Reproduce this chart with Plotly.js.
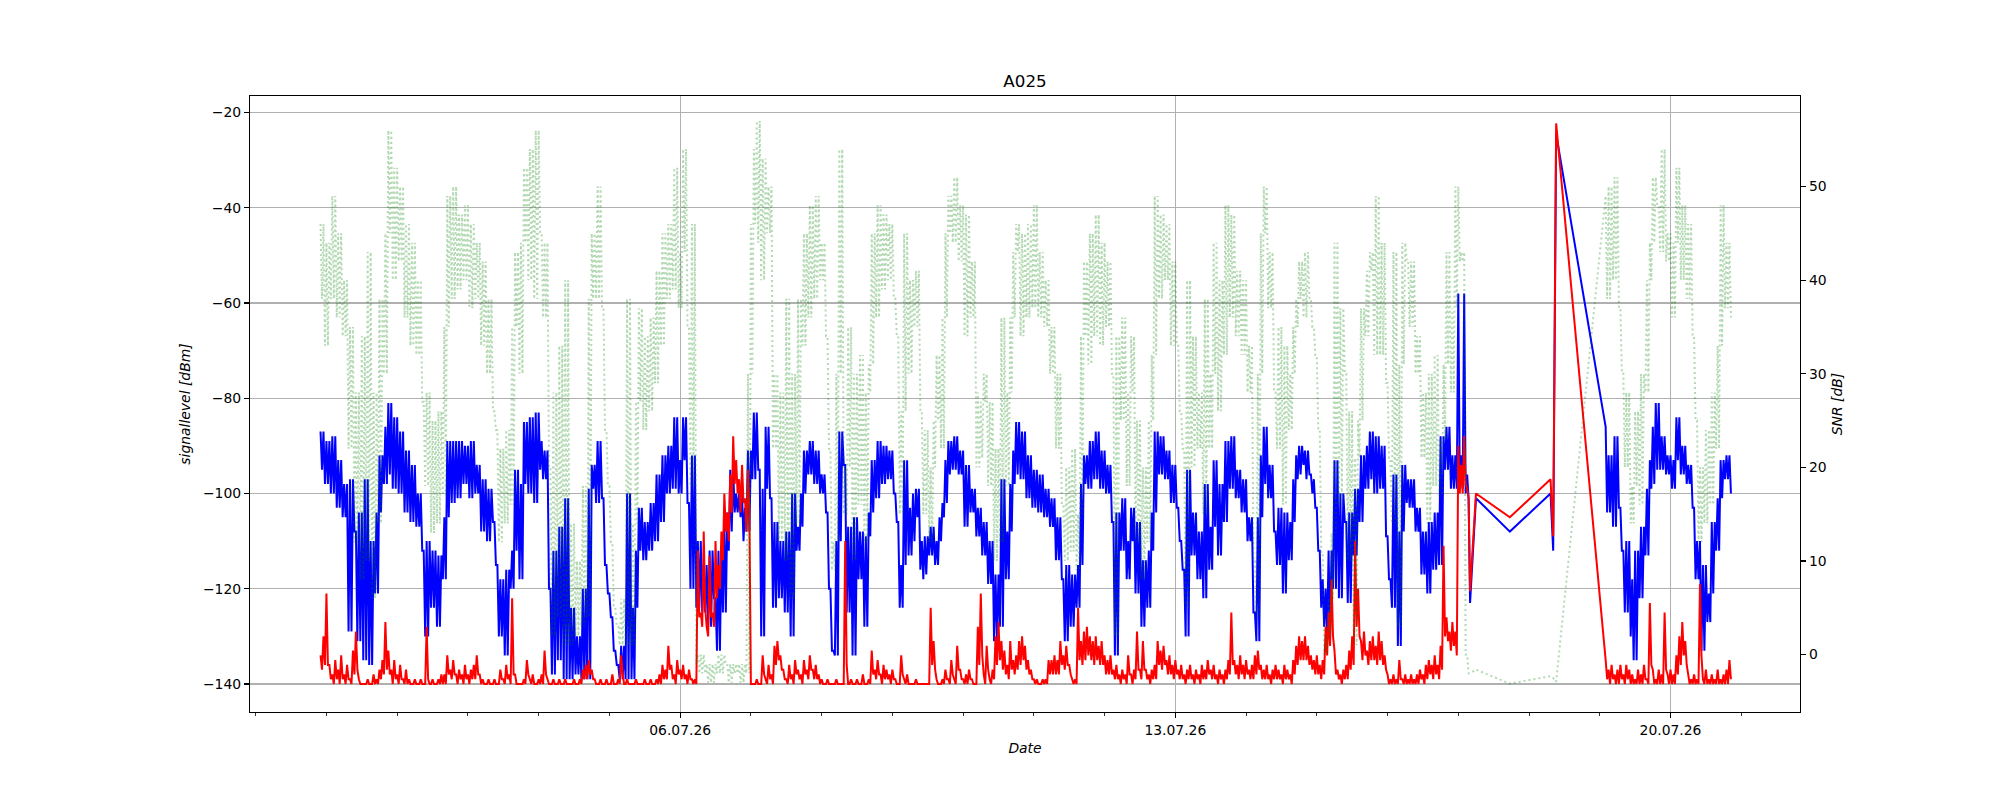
<!DOCTYPE html>
<html><head><meta charset="utf-8">
<script src="https://cdn.plot.ly/plotly-3.0.1.min.js"></script>
<style>html,body{margin:0;padding:0;background:#fff}</style>
</head><body><div id="chart" style="width:2000px;height:800px"></div>
<script>
// Readings per hour: "Hi" taken at hh:00, "Lo" at hh:30. Main block starts 30.06.26 22:00
const mainStart = '2026-06-30T22:00:00Z';
const endStart = '2026-07-19T02:00:00Z';

const blueHi = [-87,-87,-89,-89,-88,-88,-93,-93,
-98,-98,-97,-97,-108,-104,-104,-97,-97,-110,
-110,-104,-92,-92,-86,-81,-81,-84,-84,-87,
-87,-91,-91,-94,-94,-100,-100,-112,-110,-110,
-112,-112,-113,-113,-105,-89,-89,-89,-89,-89,
-89,-90,-90,-89,-89,-94,-94,-97,-97,-99,
-99,-106,-115,-118,-118,-116,-116,-112,-95,-95,
-98,-85,-85,-84,-84,-83,-83,-89,-91,-91,
-120,-112,-112,-107,-107,-101,-101,-124,-124,-130,
-130,-120,-120,-99,-94,-94,-89,-89,-101,-115,
-121,-126,-133,-136,-132,-132,-100,-100,-124,-112,
-103,-103,-106,-106,-102,-102,-96,-96,-92,-92,
-90,-90,-84,-84,-93,-84,-84,-102,-92,-92,
-110,-110,-115,-115,-112,-112,-122,-112,-112,-106,
-104,-95,-95,-100,-100,-100,-103,-91,-91,-83,
-83,-95,-99,-86,-86,-101,-106,-106,-110,-110,
-108,-108,-100,-100,-107,-100,-91,-91,-89,-89,
-91,-91,-96,-96,-104,-120,-133,-110,-87,-87,
-94,-107,-107,-105,-105,-108,-108,-109,-104,-93,
-93,-89,-89,-90,-90,-91,-91,-100,-106,-115,
-93,-93,-103,-100,-99,-99,-110,-109,-109,-107,
-107,-110,-105,-102,-93,-89,-89,-88,-88,-91,
-91,-94,-94,-99,-99,-103,-103,-106,-106,-110,
-110,-117,-117,-97,-97,-108,-98,-91,-85,-85,
-87,-87,-92,-92,-95,-95,-96,-96,-99,-99,
-101,-101,-105,-105,-118,-115,-115,-117,-117,-115,
-98,-92,-92,-89,-89,-87,-87,-91,-91,-94,
-94,-106,-104,-104,-101,-101,-110,-103,-103,-106,
-106,-114,-114,-112,-104,-87,-87,-88,-88,-91,
-91,-94,-94,-103,-110,-116,-95,-95,-104,-104,
-108,-108,-98,-98,-107,-93,-93,-98,-98,-89,
-89,-88,-88,-95,-95,-97,-97,-105,-105,-125,
-105,-92,-86,-86,-94,-94,-108,-103,-103,-104,
-104,-106,-97,-92,-90,-90,-91,-91,-96,-97,
-103,-112,-118,-120,-112,-112,-93,-93,-100,-100,
-106,-104,-104,-99,-99,-92,-92,-90,-87,-87,
-88,-88,-90,-90,-109,-118,-96,-96,-108,-94,
-94,-97,-97,-97,-103,-103,-108,-108,-106,-106,
-104,-104,-88,-88,-86,-86,-92,-92,-58,-92,
-58,-96];

const blueLo = [-95,-98,-98,-100,-100,-103,-103,-105,
-105,-129,-129,-108,-131,-131,-135,-135,-136,-136,
-121,-121,-104,-98,-98,-96,-99,-99,-100,-100,
-104,-104,-106,-106,-107,-107,-112,-130,-130,-124,
-124,-128,-128,-118,-118,-105,-102,-102,-101,-101,
-98,-98,-101,-101,-100,-100,-108,-108,-110,-110,
-106,-115,-130,-130,-134,-134,-120,-120,-112,-118,
-118,-98,-100,-100,-102,-102,-95,-97,-97,-120,
-138,-138,-135,-135,-139,-139,-139,-139,-138,-138,
-139,-139,-139,-139,-99,-102,-102,-101,-115,-121,
-126,-133,-136,-139,-139,-139,-139,-139,-139,-124,
-112,-114,-114,-112,-112,-110,-110,-106,-106,-100,
-100,-99,-99,-100,-100,-93,-102,-120,-120,-124,
-124,-125,-125,-128,-128,-122,-133,-133,-125,-125,
-112,-108,-104,-104,-105,-110,-108,-108,-97,-97,
-95,-130,-130,-99,-101,-124,-124,-122,-122,-125,
-125,-130,-130,-112,-112,-107,-100,-96,-96,-98,
-98,-100,-100,-104,-120,-133,-134,-134,-110,-94,
-125,-125,-134,-134,-118,-118,-128,-128,-109,-104,
-101,-101,-98,-98,-97,-97,-100,-106,-124,-124,
-115,-113,-113,-110,-105,-116,-118,-117,-113,-113,
-115,-115,-110,-105,-102,-96,-95,-95,-96,-96,
-107,-107,-104,-104,-109,-109,-113,-113,-119,-119,
-131,-131,-128,-128,-118,-118,-108,-98,-96,-97,
-97,-101,-101,-103,-103,-104,-104,-105,-105,-107,
-107,-114,-114,-118,-131,-131,-128,-128,-124,-124,
-115,-98,-99,-99,-97,-97,-99,-99,-100,-100,
-106,-134,-134,-112,-112,-118,-118,-110,-121,-121,
-128,-128,-124,-124,-112,-104,-96,-96,-97,-97,
-102,-102,-103,-110,-116,-130,-130,-113,-113,-118,
-118,-122,-122,-116,-116,-107,-113,-113,-106,-106,
-99,-99,-101,-101,-104,-104,-110,-110,-125,-131,
-131,-105,-98,-101,-101,-108,-115,-115,-121,-121,
-114,-114,-106,-97,-96,-94,-97,-96,-100,-103,
-112,-124,-128,-130,-130,-120,-120,-122,-122,-106,
-123,-123,-113,-113,-106,-106,-99,-99,-97,-100,
-100,-99,-99,-109,-118,-124,-124,-132,-132,-108,
-102,-103,-103,-108,-108,-117,-117,-121,-121,-116,
-116,-115,-115,-95,-95,-99,-99,-99,-97,-99,
-100,-101];

const redHi = [-134,-130,-121,-136,-138,-135,-137,-134,
-138,-136,-139,-133,-129,-139,-140,-140,-139,-140,
-138,-139,-137,-135,-127,-133,-137,-135,-138,-136,
-139,-137,-139,-140,-139,-140,-139,-140,-128,-140,
-139,-140,-139,-138,-138,-134,-137,-135,-138,-137,
-138,-136,-138,-137,-136,-134,-138,-139,-140,-139,
-140,-139,-140,-137,-139,-136,-138,-122,-138,-140,
-140,-139,-135,-139,-138,-140,-139,-138,-133,-139,
-140,-139,-140,-139,-140,-139,-140,-140,-139,-140,
-139,-137,-136,-135,-137,-139,-140,-139,-140,-139,
-140,-138,-140,-139,-134,-140,-139,-140,-140,-139,
-140,-140,-139,-140,-139,-140,-139,-138,-136,-137,
-132,-136,-138,-135,-137,-136,-138,-137,-139,-139,
-112,-125,-108,-128,-113,-125,-110,-115,-108,-100,
-104,-96,-88,-93,-97,-94,-101,-95,-140,-140,
-139,-140,-134,-139,-136,-138,-132,-131,-134,-137,
-139,-136,-138,-135,-137,-138,-135,-137,-134,-137,
-136,-138,-139,-140,-139,-140,-140,-139,-140,-140,
-110,-140,-139,-140,-139,-140,-138,-140,-139,-133,
-137,-135,-138,-136,-137,-138,-137,-139,-140,-134,
-139,-138,-140,-140,-139,-140,-140,-140,-140,-124,
-131,-139,-140,-139,-137,-139,-135,-139,-132,-137,
-139,-138,-137,-139,-140,-128,-121,-138,-132,-139,
-137,-130,-127,-131,-133,-136,-131,-135,-134,-131,
-130,-132,-135,-137,-139,-139,-140,-139,-139,-135,
-135,-134,-135,-131,-134,-132,-136,-139,-139,-124,
-131,-129,-128,-130,-131,-130,-132,-131,-134,-135,
-134,-137,-136,-138,-137,-138,-134,-138,-137,-129,
-137,-131,-137,-138,-137,-136,-131,-133,-132,-135,
-134,-136,-135,-137,-136,-138,-137,-136,-138,-137,
-138,-136,-137,-135,-137,-136,-138,-137,-138,-137,
-135,-125,-135,-136,-134,-136,-135,-137,-136,-134,
-133,-136,-137,-136,-138,-137,-136,-137,-138,-136,
-137,-138,-135,-132,-130,-131,-130,-132,-134,-135,
-134,-136,-135,-128,-125,-118,-133,-137,-138,-137,
-136,-133,-130,-110,-120,-131,-129,-133,-131,-130,
-132,-129,-131,-134,-138,-139,-138,-139,-135,-139,
-138,-139,-138,-139,-138,-137,-138,-136,-135,-136,
-134,-136,-132,-111,-126,-129,-127,-129,-90,-94,
-88,-99];

const redLo = [-137,-136,-136,-139,-140,-139,-140,-139,
-140,-139,-140,-138,-137,-140,-140,-140,-140,-140,
-140,-140,-139,-138,-137,-138,-140,-139,-140,-139,
-140,-140,-140,-140,-140,-140,-140,-140,-139,-140,
-140,-140,-140,-140,-140,-138,-139,-138,-140,-139,
-140,-139,-140,-139,-139,-138,-140,-140,-140,-140,
-140,-140,-140,-139,-140,-139,-140,-138,-140,-140,
-140,-140,-138,-140,-140,-140,-140,-140,-138,-140,
-140,-140,-140,-140,-140,-140,-140,-140,-140,-140,
-140,-139,-139,-138,-139,-140,-140,-140,-140,-140,
-140,-140,-140,-140,-138,-140,-140,-140,-140,-140,
-140,-140,-140,-140,-140,-140,-140,-140,-139,-139,
-137,-139,-140,-138,-139,-139,-140,-139,-140,-140,
-126,-128,-124,-130,-126,-128,-122,-120,-114,-108,
-110,-104,-98,-100,-104,-102,-108,-104,-140,-140,
-140,-140,-138,-140,-139,-140,-136,-135,-137,-139,
-140,-139,-140,-138,-139,-140,-138,-139,-137,-139,
-139,-140,-140,-140,-140,-140,-140,-140,-140,-140,
-136,-140,-140,-140,-140,-140,-140,-140,-140,-138,
-139,-138,-140,-139,-139,-140,-139,-140,-140,-138,
-140,-140,-140,-140,-140,-140,-140,-140,-140,-136,
-137,-140,-140,-140,-139,-140,-138,-140,-137,-139,
-140,-140,-139,-140,-140,-136,-134,-140,-137,-140,
-139,-136,-135,-137,-138,-139,-137,-138,-137,-136,
-135,-137,-138,-139,-140,-140,-140,-140,-140,-138,
-138,-138,-138,-136,-137,-136,-138,-140,-140,-135,
-136,-135,-134,-135,-136,-135,-136,-136,-138,-138,
-138,-139,-139,-140,-139,-140,-138,-140,-139,-137,
-139,-137,-139,-140,-139,-139,-136,-137,-136,-138,
-138,-139,-138,-139,-139,-140,-139,-139,-140,-139,
-140,-139,-139,-138,-139,-139,-140,-139,-140,-139,
-138,-136,-138,-139,-138,-139,-138,-139,-139,-138,
-137,-139,-139,-139,-140,-139,-139,-139,-140,-139,
-139,-140,-138,-136,-135,-135,-135,-136,-137,-138,
-138,-139,-138,-134,-132,-130,-138,-139,-140,-139,
-139,-137,-136,-128,-130,-135,-134,-136,-135,-135,
-136,-135,-136,-137,-140,-140,-140,-140,-139,-140,
-140,-140,-140,-140,-140,-139,-140,-139,-138,-139,
-138,-139,-137,-130,-131,-133,-132,-134,-100,-100,
-98,-101];

const snrHi = [46,46,44,44,49,49,45,45,
40,40,35,35,28,28,34,34,43,43,
28,28,38,38,45,56,56,52,52,50,
50,46,46,44,44,40,40,27,28,28,
25,25,26,26,35,49,49,50,50,47,
47,48,48,46,46,44,44,42,42,38,
38,26,24,22,22,24,24,35,43,43,
44,52,52,54,54,56,56,45,44,44,
20,28,28,33,33,40,40,14,14,10,
10,18,18,38,45,45,50,50,37,24,
18,12,5,3,6,6,38,38,14,27,
37,37,34,34,36,36,41,41,45,45,
46,46,52,52,43,54,54,35,46,46,
0,0,0,-1,-1,-1,-1,0,0,0,
-1,-1,-1,-1,-1,-1,-1,30,46,54,
57,57,53,53,50,50,30,30,28,28,
38,38,30,30,38,38,45,45,48,48,
49,49,44,44,34,22,12,30,54,54,
20,35,35,30,30,32,32,28,31,45,
45,48,48,47,47,46,46,38,34,26,
45,45,40,40,41,41,26,24,24,20,
25,32,32,36,45,49,49,51,51,48,
48,47,47,42,42,28,27,30,30,27,
27,22,22,36,36,28,36,43,46,46,
45,45,46,46,48,48,43,43,40,40,
35,35,30,30,16,20,20,22,22,15,
34,42,42,45,45,47,47,44,44,42,
42,30,34,34,36,36,28,34,34,25,
25,20,20,25,32,49,49,47,47,46,
46,42,42,33,26,22,40,40,34,34,
28,28,38,38,30,44,44,40,40,48,
48,47,47,41,41,40,40,33,33,10,
30,45,50,50,43,43,28,35,35,33,
33,30,35,38,42,42,43,43,38,35,
32,24,11,2,6,13,44,44,37,37,
30,26,26,21,25,37,37,41,43,43,
49,49,44,44,29,21,43,43,31,44,
44,42,42,42,34,34,28,28,30,30,
32,32,23,31,43,43,37,50,50,43,
43,0];

const snrLo = [38,33,33,38,38,36,36,34,
34,22,22,12,12,8,8,10,10,6,
6,14,14,30,30,45,40,40,42,42,
36,36,33,33,32,32,27,18,18,13,
13,14,14,17,17,35,38,38,39,39,
40,40,37,37,38,38,33,33,30,30,
26,24,12,12,14,14,16,16,35,30,
30,44,40,40,38,38,45,36,36,20,
2,2,4,4,1,1,1,1,2,2,
3,3,4,4,38,38,38,37,24,18,
12,5,3,1,1,1,1,1,1,14,
27,24,24,26,26,29,29,33,33,38,
38,39,39,37,37,43,35,18,18,-1,
-2,-2,-2,-3,-3,-3,-2,-2,-2,-1,
-3,-3,-2,-2,-3,-3,-2,-2,30,46,
44,40,40,45,45,22,22,12,12,10,
10,6,6,14,14,33,33,36,36,38,
38,40,40,34,22,9,9,12,30,15,
15,20,10,10,16,16,12,12,28,31,
36,36,39,39,40,40,38,34,15,15,
26,30,30,35,35,26,15,15,12,12,
20,25,22,22,36,45,44,44,42,42,
34,34,36,36,20,20,21,27,18,18,
10,10,12,12,18,18,28,36,43,34,
34,36,36,37,37,36,36,35,35,30,
30,22,22,16,10,10,11,11,9,9,
15,34,31,31,34,34,33,33,35,35,
30,2,2,25,25,18,18,28,12,12,
8,8,12,12,25,32,38,38,40,40,
33,33,33,26,22,5,5,20,20,22,
22,15,15,22,22,30,26,26,32,32,
36,36,34,34,32,32,28,28,10,4,
4,30,45,37,37,28,22,22,16,16,
24,24,30,35,38,36,36,38,35,32,
24,11,0,0,2,6,13,16,16,30,
10,10,1,1,21,25,34,34,41,32,
32,32,32,29,21,14,14,3,3,31,
42,35,35,30,30,21,21,14,14,18,
18,17,17,23,31,28,28,37,42,42,
0,-2];

// sparse readings during the outage
const gapTimes = ['2026-07-17 04:00','2026-07-17 06:00','2026-07-17 17:30','2026-07-18 07:18','2026-07-18 08:12','2026-07-18 09:12'];
const blueGap = [-123,-101,-108,-100,-112,-24.5];
const redGap = [-120.5,-100,-105,-97,-109,-22.3];
const snrGap = [-2,-1.6,-3.1,-2.3,-2.5,-2.9];

// final block, hourly from 19.07.26 02:00
const blueEndHi = [-86,-92,-92,-88,-88,-103,-112,-110,-110,-118,-112,-112,-107,-107,-99,-93,-86,-81,-81,-88,-88,-92,-92,-93,-84,-84,-90,-90,-94,-94,-103,-110,-110,-115,-115,-121,-106,-106,-101,-93,-93,-92,-92];
const blueEndLo = [-104,-104,-107,-107,-103,-112,-125,-125,-130,-135,-135,-122,-122,-113,-113,-99,-98,-95,-95,-95,-96,-96,-99,-99,-93,-96,-96,-98,-98,-103,-118,-118,-133,-133,-127,-127,-121,-112,-112,-101,-97,-97,-100];
const redEndHi = [-135,-137,-136,-138,-137,-136,-138,-136,-137,-138,-139,-137,-138,-136,-139,-123,-137,-139,-137,-138,-125,-138,-137,-138,-134,-130,-127,-131,-138,-139,-138,-139,-119,-139,-137,-139,-138,-139,-137,-139,-138,-137,-135];
const redEndLo = [-139,-140,-139,-140,-140,-139,-140,-139,-140,-140,-140,-140,-140,-139,-140,-136,-140,-140,-140,-140,-137,-140,-140,-140,-138,-136,-134,-136,-140,-140,-140,-140,-134,-140,-140,-140,-140,-140,-140,-140,-140,-140,-139];
const snrEndHi = [49,50,50,51,51,37,30,28,28,18,26,26,30,30,40,44,51,51,48,54,54,45,45,44,52,52,48,48,46,46,34,25,20,20,24,24,28,28,33,48,48,44,44];
const snrEndLo = [38,38,40,40,37,30,20,20,14,14,18,16,16,28,28,40,44,48,43,43,42,42,36,36,44,40,40,38,38,34,25,12,12,14,14,16,16,22,22,33,37,37,36];

const xTickLabelFormat = '%d.%m.%y';

function fmt(ms) { return new Date(ms).toISOString().slice(0, 16).replace('T', ' '); }
function hourlyHiLo(startIso, hi, lo) {
  const t0 = Date.parse(startIso);
  const x = [], y = [];
  for (let i = 0; i < hi.length; i++) {
    x.push(fmt(t0 + i * 3600000)); y.push(hi[i]);
    x.push(fmt(t0 + i * 3600000 + 1800000)); y.push(lo[i]);
  }
  return {x, y};
}
function series(hi, lo, gap, endHi, endLo) {
  const a = hourlyHiLo(mainStart, hi, lo);
  const b = hourlyHiLo(endStart, endHi, endLo);
  return {x: a.x.concat(gapTimes, b.x), y: a.y.concat(gap, b.y)};
}
const sBlue = series(blueHi, blueLo, blueGap, blueEndHi, blueEndLo);
const sRed = series(redHi, redLo, redGap, redEndHi, redEndLo);
const sSnr = series(snrHi, snrLo, snrGap, snrEndHi, snrEndLo);

const traces = [
  {x: sBlue.x, y: sBlue.y, type: 'scatter', mode: 'lines', yaxis: 'y', line: {color: '#0000ff', width: 2, simplify: false}, name: 'signal'},
  {x: sRed.x, y: sRed.y, type: 'scatter', mode: 'lines', yaxis: 'y', line: {color: '#ff0000', width: 2, simplify: false}, name: 'noise'},
  {x: sSnr.x, y: sSnr.y, type: 'scatter', mode: 'lines', yaxis: 'y2', line: {color: 'rgba(0,128,0,0.3)', width: 2, dash: '2px,3px', simplify: false}, name: 'SNR'}
];

const axisCommon = {
  ticks: 'outside', ticklen: 5, tickwidth: 1.1, tickcolor: 'black',
  showline: true, linecolor: 'black', linewidth: 1.1, zeroline: false,
  automargin: false, tickfont: {size: 13.9, color: 'black'}
};

const layout = {
  width: 2000, height: 800,
  margin: {l: 250, r: 200, t: 96, b: 88, pad: 0},
  paper_bgcolor: 'white', plot_bgcolor: 'white',
  font: {family: 'DejaVu Sans', size: 13.9, color: 'black'},
  showlegend: false,
  title: {text: 'A025', font: {size: 16.7, color: 'black'}, x: 0.5, xref: 'paper', xanchor: 'center', y: 1 - 81.5 / 800, yref: 'container', yanchor: 'middle'},
  xaxis: Object.assign({}, axisCommon, {
    type: 'date', range: ['2026-06-29 22:04', '2026-07-21 19:56'],
    tickformat: xTickLabelFormat, tick0: '2026-07-06', dtick: 7 * 86400000,
    showgrid: true, gridcolor: '#b0b0b0', gridwidth: 1.1, mirror: true,
    minor: {tick0: '2026-07-06', dtick: 86400000, ticks: 'outside', ticklen: 3, tickwidth: 0.8, tickcolor: 'black', showgrid: false},
    title: {text: '<i>Date</i>', font: {size: 13.9}, standoff: 6}
  }),
  yaxis: Object.assign({}, axisCommon, {
    range: [-145.88, -16.54], tick0: -140, dtick: 20,
    showgrid: true, gridcolor: '#b0b0b0', gridwidth: 1.1, mirror: true,
    title: {text: '<i>signallevel [dBm]</i>', font: {size: 13.9}, standoff: 9}
  }),
  yaxis2: Object.assign({}, axisCommon, {
    overlaying: 'y', side: 'right', range: [-6.13, 59.67], tick0: 0, dtick: 10,
    showgrid: false,
    title: {text: '<i>SNR [dB]</i>', font: {size: 13.9}, standoff: 6}
  })
};

Plotly.newPlot('chart', traces, layout, {staticPlot: true, displayModeBar: false});
</script>
</body></html>
